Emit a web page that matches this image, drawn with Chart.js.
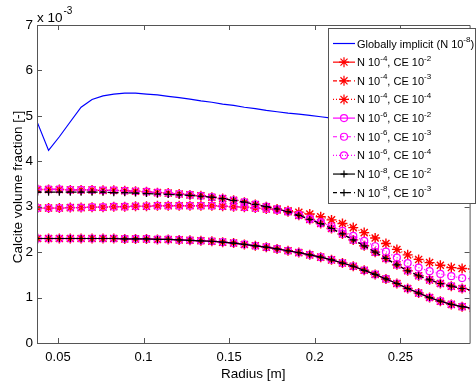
<!DOCTYPE html>
<html>
<head>
<meta charset="utf-8">
<script src="https://cdn.jsdelivr.net/npm/chart.js@4.4.1/dist/chart.umd.min.js"></script>
<style>
  html, body { margin: 0; padding: 0; background: #fff; }
  canvas { display: block; }
</style>
</head>
<body>
<canvas id="calciteChart" width="476" height="382"></canvas>
<script>
// radius of the grid nodes [m]
var radius = [0.0381, 0.0445, 0.0508, 0.0572, 0.0635, 0.0699, 0.0763, 0.0826, 0.0890, 0.0953,
              0.1017, 0.1081, 0.1144, 0.1208, 0.1271, 0.1335, 0.1399, 0.1462, 0.1526, 0.1589,
              0.1653, 0.1717, 0.1780, 0.1844, 0.1907, 0.1971, 0.2035, 0.2098, 0.2162, 0.2225,
              0.2289, 0.2353, 0.2416, 0.2480, 0.2543, 0.2607, 0.2671, 0.2734, 0.2798, 0.2861, 0.2925];

// calcite volume fraction, in units of 10^-3
var globalImplicit = [4.84, 4.24, 4.54, 4.87, 5.19, 5.36, 5.44, 5.48, 5.50, 5.50,
                      5.48, 5.46, 5.43, 5.40, 5.37, 5.33, 5.30, 5.26, 5.23, 5.19,
                      5.16, 5.12, 5.09, 5.06, 5.04, 5.01, 4.98, 4.95, 4.92, 4.88,
                      4.84, 4.80, 4.76, 4.72, 4.68, 4.64, 4.60, 4.57, 4.54, 4.52, 4.50];

// CE 10^-2 runs lie on top of each other
var n4ce2 = [2.30, 2.30, 2.30, 2.30, 2.30, 2.30, 2.30, 2.30, 2.29, 2.29,
             2.29, 2.28, 2.28, 2.27, 2.26, 2.25, 2.24, 2.22, 2.20, 2.17,
             2.14, 2.11, 2.07, 2.03, 1.99, 1.94, 1.89, 1.83, 1.76, 1.69,
             1.60, 1.51, 1.41, 1.31, 1.20, 1.10, 1.00, 0.92, 0.85, 0.80, 0.76];
var n6ce2 = n4ce2;
var n8ce2 = n4ce2;

var n4ce3 = [3.38, 3.38, 3.38, 3.37, 3.37, 3.37, 3.36, 3.36, 3.35, 3.34,
             3.33, 3.31, 3.30, 3.28, 3.26, 3.24, 3.21, 3.18, 3.14, 3.10,
             3.05, 3.00, 2.95, 2.89, 2.81, 2.72, 2.63, 2.52, 2.40, 2.27,
             2.14, 2.00, 1.86, 1.72, 1.59, 1.48, 1.39, 1.31, 1.25, 1.20, 1.16];
var n6ce3 = n4ce3;
var n8ce3 = [3.32, 3.32, 3.32, 3.32, 3.32, 3.32, 3.32, 3.31, 3.31, 3.30,
             3.29, 3.28, 3.27, 3.26, 3.25, 3.23, 3.21, 3.18, 3.14, 3.10,
             3.05, 3.00, 2.95, 2.89, 2.81, 2.72, 2.63, 2.52, 2.40, 2.27,
             2.14, 2.00, 1.86, 1.72, 1.59, 1.48, 1.39, 1.31, 1.25, 1.20, 1.16];

var n4ce4 = [2.97, 2.97, 2.97, 2.98, 2.98, 2.99, 2.99, 3.00, 3.00, 3.01,
             3.01, 3.02, 3.02, 3.02, 3.02, 3.02, 3.02, 3.01, 3.00, 2.99,
             2.97, 2.95, 2.93, 2.91, 2.88, 2.84, 2.78, 2.71, 2.63, 2.54,
             2.43, 2.31, 2.19, 2.06, 1.94, 1.84, 1.77, 1.71, 1.66, 1.64, 1.63];
var n6ce4 = [2.97, 2.97, 2.97, 2.98, 2.98, 2.99, 2.99, 3.00, 3.00, 3.01,
             3.01, 3.02, 3.02, 3.02, 3.02, 3.02, 3.02, 3.01, 3.00, 2.99,
             2.97, 2.95, 2.93, 2.90, 2.82, 2.74, 2.66, 2.57, 2.47, 2.36,
             2.25, 2.13, 2.01, 1.88, 1.76, 1.66, 1.58, 1.52, 1.47, 1.43, 1.41];

var seriesLabels = ['Globally implicit (N 10^-8)',
                    'N 10^-4, CE 10^-2', 'N 10^-4, CE 10^-3', 'N 10^-4, CE 10^-4',
                    'N 10^-6, CE 10^-2', 'N 10^-6, CE 10^-3', 'N 10^-6, CE 10^-4',
                    'N 10^-8, CE 10^-2', 'N 10^-8, CE 10^-3'];
var seriesValues = [globalImplicit, n4ce2, n4ce3, n4ce4, n6ce2, n6ce3, n6ce4, n8ce2, n8ce3];

var xTicks = [0.05, 0.1, 0.15, 0.2, 0.25];
var yTicks = [0, 1, 2, 3, 4, 5, 6, 7];
var yExponent = '-3';
var xTitle = 'Radius [m]';
var yTitle = 'Calcite volume fraction [-]';

// matlab-ish look for each series
var styles = [
  { color: '#0000ff', dash: [], marker: false },
  { color: '#ff0000', dash: [], marker: 'star' },
  { color: '#ff0000', dash: [4, 3], marker: 'star' },
  { color: '#ff0000', dash: [1, 2], marker: 'star' },
  { color: '#ff00ff', dash: [], marker: 'circle' },
  { color: '#ff00ff', dash: [4, 3], marker: 'circle' },
  { color: '#ff00ff', dash: [1, 2], marker: 'circle' },
  { color: '#000000', dash: [], marker: 'cross' },
  { color: '#000000', dash: [4, 3], marker: 'cross' }
];
var markerSize = { star: 5, circle: 3.5, cross: 3.5 };
var fontFamily = '"Liberation Sans", Arial, sans-serif';

var datasets = seriesValues.map(function (vals, i) {
  var st = styles[i];
  return {
    label: seriesLabels[i],
    data: vals.map(function (v, j) { return { x: radius[j], y: v }; }),
    borderColor: st.color,
    backgroundColor: 'rgba(0,0,0,0)',
    borderWidth: 1.2,
    borderDash: st.dash,
    pointStyle: st.marker || 'circle',
    pointRadius: st.marker ? markerSize[st.marker] : 0,
    pointBorderColor: st.color,
    pointBackgroundColor: 'rgba(0,0,0,0)',
    pointBorderWidth: st.marker === 'star' ? 1.4 : 1.2,
    tension: 0,
    order: seriesValues.length - i   // later series on top, like matlab
  };
});

// text with ^-n superscripts
function drawRichText(ctx, text, x, y, size) {
  var parts = text.split(/\^(-?\d+)/);
  for (var k = 0; k < parts.length; k++) {
    if (!parts[k]) continue;
    var sup = (k % 2 === 1);
    ctx.font = (sup ? Math.round(size * 0.72) : size) + 'px ' + fontFamily;
    ctx.fillText(parts[k], x, sup ? y - size * 0.42 : y);
    x += ctx.measureText(parts[k]).width;
  }
  return x;
}

function drawMarker(ctx, type, x, y, r) {
  ctx.beginPath();
  if (type === 'circle') {
    ctx.arc(x, y, r, 0, Math.PI * 2);
  } else {
    ctx.moveTo(x - r, y); ctx.lineTo(x + r, y);
    ctx.moveTo(x, y - r); ctx.lineTo(x, y + r);
    if (type === 'star') {
      var d = r * 0.7071;
      ctx.moveTo(x - d, y - d); ctx.lineTo(x + d, y + d);
      ctx.moveTo(x - d, y + d); ctx.lineTo(x + d, y - d);
    }
  }
  ctx.stroke();
}

var matlabFrame = {
  id: 'matlabFrame',
  afterDatasetsDraw: function (chart) {
    var ctx = chart.ctx, a = chart.chartArea;
    var xs = chart.scales.x, ys = chart.scales.y;
    ctx.save();
    ctx.strokeStyle = '#555';
    ctx.lineWidth = 1;
    ctx.setLineDash([]);
    ctx.beginPath();
    ctx.rect(a.left + 0.5, a.top + 0.5, a.right - a.left, a.bottom - a.top);
    xTicks.forEach(function (v) {
      var px = Math.round(xs.getPixelForValue(v)) + 0.5;
      ctx.moveTo(px, a.bottom); ctx.lineTo(px, a.bottom - 5);
      ctx.moveTo(px, a.top); ctx.lineTo(px, a.top + 5);
    });
    yTicks.forEach(function (v) {
      var py = Math.round(ys.getPixelForValue(v)) + 0.5;
      ctx.moveTo(a.left, py); ctx.lineTo(a.left + 5, py);
      ctx.moveTo(a.right, py); ctx.lineTo(a.right - 5, py);
    });
    ctx.stroke();

    // axis titles and exponent
    ctx.fillStyle = '#000';
    ctx.textBaseline = 'alphabetic';
    ctx.font = '13.5px ' + fontFamily;
    ctx.textAlign = 'center';
    ctx.fillText(xTitle, (a.left + a.right) / 2, 378);
    ctx.save();
    ctx.translate(22, (a.top + a.bottom) / 2 + 3);
    ctx.rotate(-Math.PI / 2);
    ctx.fillText(yTitle, 0, 0);
    ctx.restore();
    ctx.textAlign = 'left';
    ctx.font = '13.5px ' + fontFamily;
    ctx.fillText('x 10', a.left, 22);
    var w = ctx.measureText('x 10').width;
    ctx.font = '10px ' + fontFamily;
    ctx.fillText(yExponent, a.left + w + 1, 14);

    // legend box
    var lx = 328, ly = 28, lw = 148, lh = 175;
    ctx.fillStyle = '#fff';
    ctx.fillRect(lx, ly, lw, lh);
    ctx.strokeStyle = '#555';
    ctx.strokeRect(lx + 0.5, ly + 0.5, lw - 1, lh);
    seriesLabels.forEach(function (lab, i) {
      var st = styles[i];
      var yy = 43.5 + i * 18.65;
      ctx.strokeStyle = st.color;
      ctx.lineWidth = 1.2;
      ctx.setLineDash(st.dash);
      ctx.beginPath();
      ctx.moveTo(333, yy); ctx.lineTo(355, yy);
      ctx.stroke();
      ctx.setLineDash([]);
      if (st.marker) drawMarker(ctx, st.marker, 344, yy, markerSize[st.marker]);
      ctx.fillStyle = '#000';
      ctx.textBaseline = 'middle';
      drawRichText(ctx, lab, 357, yy + 1, 11);
    });
    ctx.restore();
  }
};

var ctx = document.getElementById('calciteChart').getContext('2d');
var calciteChart = new Chart(ctx, {
  type: 'line',
  data: { datasets: datasets },
  options: {
    responsive: false,
    animation: false,
    devicePixelRatio: 1,
    layout: { padding: { top: 25, right: 0, left: 0, bottom: 0 } },
    plugins: { legend: { display: false }, tooltip: { enabled: false } },
    scales: {
      x: {
        type: 'linear',
        min: 0.03774,
        max: 0.29048,
        grid: { display: false, drawTicks: false },
        border: { display: false },
        afterBuildTicks: function (s) { s.ticks = xTicks.map(function (v) { return { value: v }; }); },
        afterFit: function (s) { s.height = 39; },
        ticks: {
          font: { family: fontFamily, size: 13 }, color: '#000', padding: 7,
          maxRotation: 0, autoSkip: false,
          callback: function (v) { return String(v); }
        }
      },
      y: {
        type: 'linear',
        min: 0,
        max: 7,
        grid: { display: false, drawTicks: false },
        border: { display: false },
        afterBuildTicks: function (s) { s.ticks = yTicks.map(function (v) { return { value: v }; }); },
        afterFit: function (s) { s.width = 37; },
        ticks: {
          font: { family: fontFamily, size: 13.5 }, color: '#000', padding: 4,
          callback: function (v) { return String(v); }
        }
      }
    }
  },
  plugins: [matlabFrame]
});
</script>
</body>
</html>
